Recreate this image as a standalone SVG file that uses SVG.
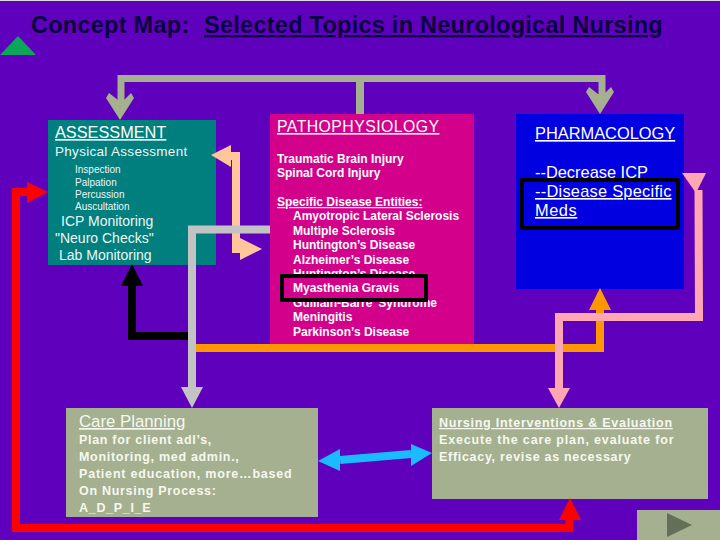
<svg xmlns="http://www.w3.org/2000/svg" width="720" height="540" viewBox="0 0 720 540">
<style>
text{font-family:"Liberation Sans",Arial,sans-serif;fill:#fff}
.u{text-decoration:underline}
.c{fill:none}
.b{font-weight:bold;font-size:12px}
.h{font-size:16.4px}
.t{font-size:10px;fill:#f0f4f4}
.m{font-size:14px;fill:#eef6f6}
.n{font-size:12.5px;font-weight:bold;letter-spacing:.7px;fill:#f6f8f0}
</style>
<rect width="720" height="540" fill="#5f00bd"/>
<rect width="720" height="1" fill="#ddd"/>
<g id="title"><text x="31" y="33" style="fill:#0a0040;font-size:23.5px;font-weight:bold;letter-spacing:.26px">Concept Map:</text><text x="204" y="33" class="u" style="fill:#0a0040;font-size:23.5px;font-weight:bold;letter-spacing:.26px">Selected Topics in Neurological Nursing</text></g>
<polygon id="home" points="0,55 36,55 18,36" fill="#0da55a"/>
<g id="assessment">
<rect x="48" y="120" width="168" height="145" fill="#007f7f"/>
<text x="55" y="138" class="u" style="font-size:16.3px">ASSESSMENT</text>
<text x="55" y="156" style="font-size:13.5px;letter-spacing:.3px;fill:#eef6f6">Physical Assessment</text>
<text x="75" y="173" class="t">Inspection</text>
<text x="75" y="186" class="t">Palpation</text>
<text x="75" y="198" class="t">Percussion</text>
<text x="75" y="210" class="t">Auscultation</text>
<text x="61" y="226" class="m">ICP Monitoring</text>
<text x="55" y="243" class="m">"Neuro Checks"</text>
<text x="59" y="260" class="m">Lab Monitoring</text>
</g>
<g id="pathophysiology">
<rect x="270" y="114" width="204" height="234" fill="#d3008c"/>
<text x="277" y="132" class="u" style="font-size:15.8px;letter-spacing:.45px">PATHOPHYSIOLOGY</text>
<text x="277" y="163" class="b">Traumatic Brain Injury</text>
<text x="277" y="177" class="b">Spinal Cord Injury</text>
<text x="277" y="206" class="b u">Specific Disease Entities:</text>
<text x="293" y="220" class="b">Amyotropic Lateral Sclerosis</text>
<text x="293" y="235" class="b">Multiple Sclerosis</text>
<text x="293" y="249" class="b">Huntington’s Disease</text>
<text x="293" y="264" class="b">Alzheimer’s Disease</text>
<text x="293" y="278" class="b">Huntington’s Disease</text>
<text x="293" y="307" class="b">Guillain-Barre’ Syndrome</text>
<text x="293" y="321" class="b">Meningitis</text>
<text x="293" y="336" class="b">Parkinson’s Disease</text>
<rect x="282" y="276" width="144" height="24" fill="#d3008c" stroke="#000" stroke-width="4"/>
<text x="293" y="292" class="b">Myasthenia Gravis</text>
</g>
<g id="pharmacology">
<rect x="516" y="114" width="168" height="175" fill="#0000e0"/>
<text x="535" y="139" class="u h">PHARMACOLOGY</text>
<text x="535" y="178" class="h">--Decrease ICP</text>
<rect x="522" y="180" width="156" height="48" fill="none" stroke="#000" stroke-width="4"/>
<text x="535" y="197" class="u h" style="letter-spacing:.25px">--Disease Specific</text>
<text x="535" y="216" class="u h" style="letter-spacing:.55px">Meds</text>
</g>
<g id="care-planning">
<rect x="66" y="408" width="252" height="109" fill="#a4b08f"/>
<text x="79" y="427" class="u" style="font-size:16.8px;fill:#f6f8f0">Care Planning</text>
<text x="79" y="444" class="n">Plan for client adl’s,</text>
<text x="79" y="461" class="n">Monitoring, med admin.,</text>
<text x="79" y="478" class="n" style="letter-spacing:.8px">Patient education, more…based</text>
<text x="79" y="495" class="n">On Nursing Process:</text>
<text x="79" y="512" class="n">A_D_P_I_E</text>
</g>
<g id="nursing">
<rect x="432" y="408" width="276" height="91" fill="#a4b08f"/>
<text x="439" y="427" class="n u" style="letter-spacing:.75px">Nursing Interventions &amp; Evaluation</text>
<text x="439" y="444" class="n" style="letter-spacing:.85px">Execute  the care plan, evaluate for</text>
<text x="439" y="461" class="n">Efficacy, revise as necessary</text>
</g>
<g id="next"><rect x="637" y="510" width="83" height="30" fill="#a4b08f"/><polygon points="667,513 692,525 667,537" fill="#636f56"/></g>
<g id="connectors" class="c">
<polyline points="121,100 121,78.500 602,78.500 602,95" stroke="#a4b08f" stroke-width="7"/>
<polygon points="120,120 106,98 109,93 118,100 124,100 131,93 134,98" fill="#a4b08f"/>
<polygon points="600,114 586,92 589,87 598,94 604,94 611,87 614,92" fill="#a4b08f"/>
<polyline points="360,114 360,78" stroke="#a4b08f" stroke-width="8"/>
<polyline points="231,156 236,156 236,249 241,249" stroke="#ffc69b" stroke-width="8"/>
<polygon points="211,155 231,145 231,167" fill="#ffc69b"/>
<polygon points="240,238 262,249 240,260" fill="#ffc69b"/>
<polyline points="270,229.500 192,229.500 192,390" stroke="#c3c3c3" stroke-width="8"/>
<polygon points="181,387 203,387 192,408" fill="#c3c3c3"/>
<polyline points="188,336 132,336 132,285" stroke="#000" stroke-width="8"/>
<polygon points="121,286 143,286 132,264" fill="#000"/>
<polyline points="196,348 600,348 600,305" stroke="#ff9800" stroke-width="8"/>
<polygon points="589,310 611,310 600,288" fill="#ff9800"/>
<polyline points="559,390 559,317 699,317 698.500,190" stroke="#ffa6b4" stroke-width="8"/>
<polygon points="548,388 570,388 559,408" fill="#ffa6b4"/>
<polygon points="682,173 706,173 696,193" fill="#ffa6b4"/>
<polyline points="340,460 411,454" stroke="#1bbcff" stroke-width="8"/>
<polygon points="318,461 340,449 340,471" fill="#1bbcff"/>
<polygon points="432,453 411,444 411,466" fill="#1bbcff"/>
<polyline points="30,192 16,192 16,528 569.500,528 569.500,515" stroke="#f00" stroke-width="8"/>
<polygon points="48,192 27,182 27,203" fill="#f00"/>
<polygon points="559,520 581,520 570,498" fill="#f00"/>
</g>
</svg>
